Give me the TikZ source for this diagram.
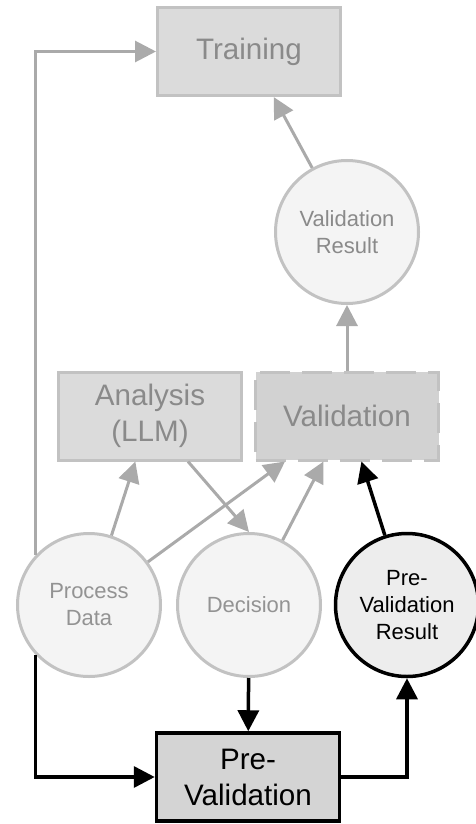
\documentclass[tikz,border=0pt]{standalone}
\usepackage{fontspec}
\setmainfont{Liberation Sans}
\usepackage{xcolor}
\usetikzlibrary{arrows.meta}
\usetikzlibrary{positioning}

\definecolor{boxfill}{HTML}{DBDBDB}
\definecolor{boxline}{HTML}{C2C2C2}
\definecolor{boxtext}{HTML}{8A8A8A}
\definecolor{statefill}{HTML}{F4F4F4}
\definecolor{statetext}{HTML}{939393}
\definecolor{flowgray}{HTML}{AAAAAA}

\begin{document}
\begin{tikzpicture}[x=1pt, y=-1pt,
    box/.style={rectangle, draw=boxline, fill=boxfill, line width=3pt, minimum width=183pt, minimum height=88pt, inner sep=0pt, align=center, text=boxtext, font=\fontsize{29.6}{36}\selectfont},
    state/.style={circle, draw=boxline, fill=statefill, line width=3pt, minimum size=143pt, inner sep=0pt, align=center, text=statetext, font=\fontsize{22}{27}\selectfont},
    flow/.style={draw=flowgray, line width=3pt, -{Triangle[length=21pt, width=21pt]}},
    mainflow/.style={draw=black, line width=3.5pt, -{Triangle[length=21pt, width=21pt]}}]

        \useasboundingbox (0,0) rectangle (476,824);

        \node[box] (train) at (249,51.5) {Training};
        \node[state, text=boxtext] (vres) at (347,232) {Validation\\Result};

        \node[box] (ana) at (150,416) {Analysis\\(LLM)};
        \node[box, fill=boxfill!96!black, dash pattern=on 30pt off 12pt] (val) at (347,416) {Validation};

        \node[state] (pdata) at (89,605) {Process\\Data};
        \node[state] (dec) at (249,605) {Decision};
        \node[state, draw=black, fill=statefill!97!black, line width=3.5pt, text=black] (pvres) at (407,605) {Pre-\\Validation\\Result};

        \node[box, draw=black, fill=boxfill!97!black, line width=3.5pt, text=black] (preval) at (248,777) {Pre-\\Validation};

        \draw[flow] (vres) -- (train);
        \draw[flow] (val) -- (vres);
        \draw[flow] (pdata.137) |- (train);

        \draw[flow] (pdata) -- (ana);
        \draw[flow] (pdata) -- (val);
        \draw[flow] ([xshift=38pt]ana.south) -- (dec.north);
        \draw[flow] (dec) -- (val);

        \draw[mainflow] (pdata.223) |- (preval);
        \draw[mainflow] (dec) -- (preval);
        \draw[mainflow] (preval) -| (pvres);
        \draw[mainflow] (pvres) -- (val);

    \end{tikzpicture}
\end{document}
